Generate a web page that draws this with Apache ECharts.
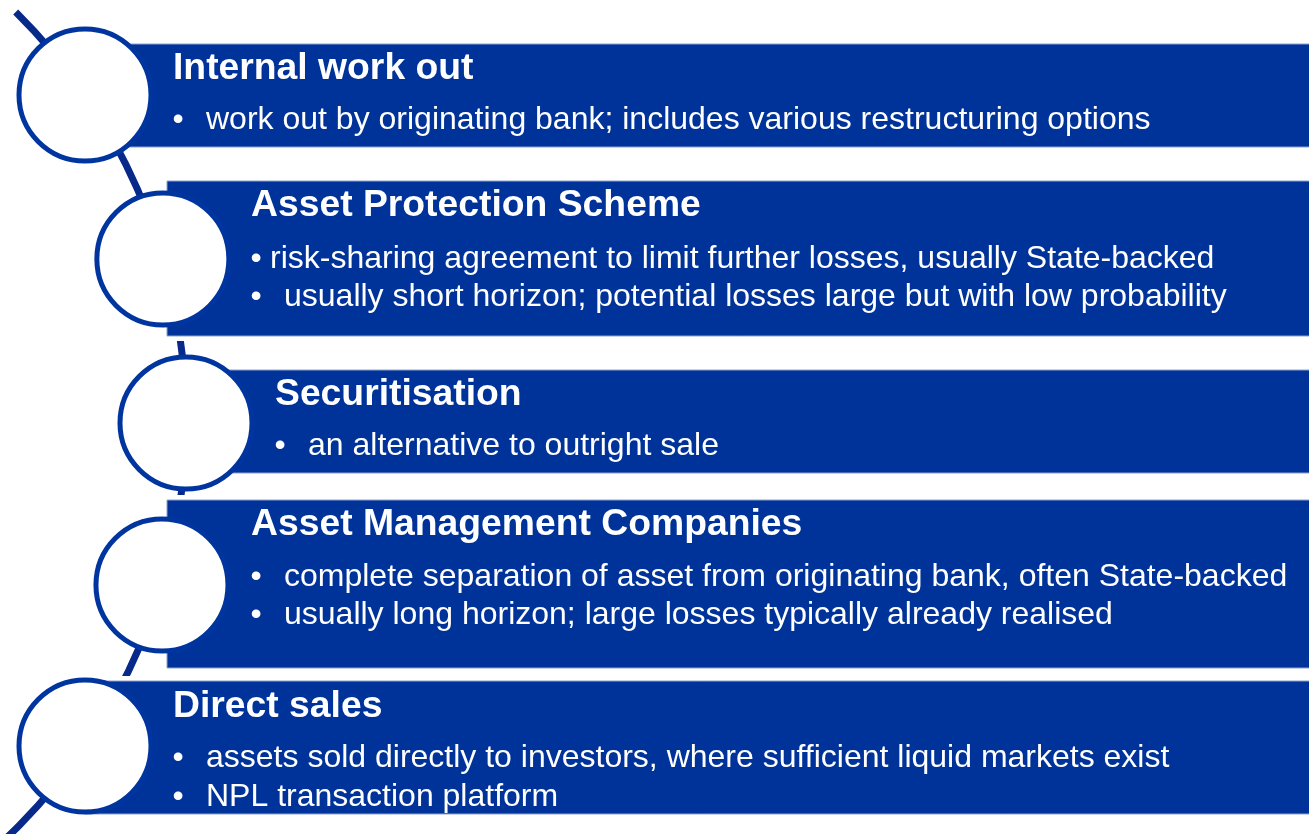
<!DOCTYPE html>
<html>
<head>
<meta charset="utf-8">
<script src="https://cdn.jsdelivr.net/npm/echarts@6/dist/echarts.min.js"></script>
<style>
html,body{margin:0;padding:0;background:#fff;}
#c{width:1309px;height:834px;}
</style>
</head>
<body>
<div id="c"></div>
<script>
// ---- content ----
const titles = [
  'Internal work out',
  'Asset Protection Scheme',
  'Securitisation',
  'Asset Management Companies',
  'Direct sales'
];
const bullets1 = ['work out by originating bank; includes various restructuring options'];
const bullets2 = ['risk-sharing agreement to limit further losses, usually State-backed',
                  'usually short horizon; potential losses large but with low probability'];
const bullets3 = ['an alternative to outright sale'];
const bullets4 = ['complete separation of asset from originating bank, often State-backed',
                  'usually long horizon; large losses typically already realised'];
const bullets5 = ['assets sold directly to investors, where sufficient liquid markets exist',
                  'NPL transaction platform'];
const bulletLists = [bullets1, bullets2, bullets3, bullets4, bullets5];

// ---- layout (pixels) ----
const ARC = {cx: -389, cy: 420.5, r: 575};
const circleY = [95, 259, 423, 585, 746];
const boxes = [
  {x0: 85,  y0: 44,  y1: 147, tx: 173, tb: 80,  bb: [128],      bx: [206]},
  {x0: 167, y0: 181, y1: 336, tx: 251, tb: 217, bb: [267, 305], bx: [270, 284]},
  {x0: 186, y0: 370, y1: 473, tx: 275, tb: 405.5, bb: [454],    bx: [308]},
  {x0: 167, y0: 500, y1: 668, tx: 251, tb: 536, bb: [585.5, 623], bx: [284, 284]},
  {x0: 85,  y0: 681, y1: 814, tx: 173, tb: 718, bb: [766, 805], bx: [206, 206]}
];
const W = 1309;
const FONT = '"Liberation Sans", Arial, Helvetica, sans-serif';
const TITLE_SIZE = 37.3, BODY_SIZE = 32;
const TITLE_OFF = 11, BODY_OFF = 8;
const BOX_COLOR = '#003399', RING_COLOR = '#0035a0', LINE_COLOR = '#06298a';

const chart = echarts.init(document.getElementById('c'), null, {renderer: 'canvas'});
const els = [];

// connecting arc
els.push({
  type: 'arc', z: 1,
  shape: {cx: ARC.cx, cy: ARC.cy, r: ARC.r, startAngle: -0.79, endAngle: 0.84, clockwise: true},
  style: {stroke: LINE_COLOR, lineWidth: 7, fill: null}
});

boxes.forEach((b, i) => {
  // white halo
  els.push({type: 'rect', z: 2, shape: {x: b.x0 - 5, y: b.y0 - 5, width: W - b.x0 + 10, height: b.y1 - b.y0 + 10},
    style: {fill: '#ffffff'}});
  els.push({type: 'rect', z: 3, shape: {x: b.x0, y: b.y0, width: W - b.x0 + 5, height: b.y1 - b.y0},
    style: {fill: BOX_COLOR, stroke: '#8da2cf', lineWidth: 1}});
  // circle
  const dy = circleY[i] - ARC.cy;
  const cx = ARC.cx + Math.sqrt(ARC.r * ARC.r - dy * dy);
  els.push({type: 'circle', z: 4, shape: {cx: cx, cy: circleY[i], r: 66},
    style: {fill: '#ffffff', stroke: RING_COLOR, lineWidth: 5}});
  // title
  els.push({type: 'text', z: 5, x: b.tx, y: b.tb - TITLE_OFF,
    style: {text: titles[i], fill: '#ffffff', font: 'bold ' + TITLE_SIZE + 'px ' + FONT,
      textAlign: 'left', textVerticalAlign: 'middle'}});
  // bullets
  bulletLists[i].forEach((t, j) => {
    const by = b.bb[j] - BODY_OFF;
    els.push({type: 'text', z: 5, x: b.tx + 5, y: by,
      style: {text: '•', fill: '#ffffff', font: BODY_SIZE + 'px ' + FONT,
        textAlign: 'center', textVerticalAlign: 'middle'}});
    els.push({type: 'text', z: 5, x: b.bx[j], y: by,
      style: {text: t, fill: '#ffffff', font: BODY_SIZE + 'px ' + FONT,
        textAlign: 'left', textVerticalAlign: 'middle'}});
  });
});

chart.setOption({animation: false, backgroundColor: '#ffffff', graphic: {elements: els}});
</script>
</body>
</html>
